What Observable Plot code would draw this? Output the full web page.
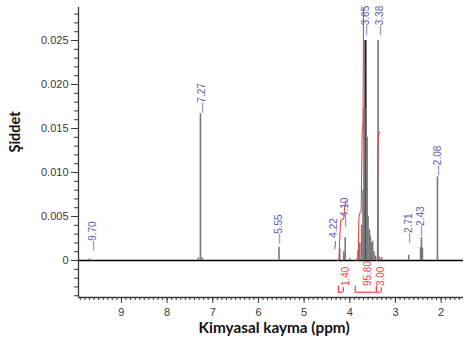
<!DOCTYPE html>
<html><head><meta charset="utf-8">
<script src="https://cdn.jsdelivr.net/npm/d3@7"></script>
<script src="https://cdn.jsdelivr.net/npm/@observablehq/plot@0.6"></script>
<style>body{margin:0;background:#fff}</style>
</head><body><div id="chart"></div>
<script>
// Spectrum peaks (ppm, intensity)
const peakPpm    = [9.70, 7.32, 7.27, 7.23, 5.55, 4.22, 4.13, 4.10, 4.00, 3.82, 3.78, 3.74, 3.71, 3.69, 3.67, 3.65, 3.64, 3.62, 3.60, 3.57, 3.55, 3.53, 3.50, 3.47, 3.44, 3.38, 3.35, 3.30, 2.71, 2.45, 2.43, 2.41, 2.08];
const peakHeight = [0.0002, 0.0003, 0.0167, 0.0003, 0.0015, 0.0013, 0.0010, 0.0026, 0.0002, 0.0011, 0.0020, 0.0040, 0.0080, 0.0173, 0.0250, 0.0250, 0.0173, 0.0140, 0.0050, 0.0035, 0.0028, 0.0020, 0.0022, 0.0010, 0.0005, 0.0250, 0.0004, 0.0003, 0.0006, 0.0015, 0.0026, 0.0014, 0.0095];
const darkPeaks  = [3.65];

// Peak labels
const labelText = ["—9.70", "—7.27", "—5.55", "4.22", "—4.10", "—3.65", "—3.38", "—2.71", "—2.43", "—2.08"];
const labelPpm  = [9.63, 7.25, 5.55, 4.36, 4.10, 3.64, 3.35, 2.71, 2.44, 2.08];
const labelBase = [0.0011, 0.0168, 0.0019, 0.0026, 0.0038, 0.0256, 0.0256, 0.0020, 0.0028, 0.0097];

// Integral curves
const intSeg  = ["a","a","a","a","a","a","a", "b","b","b","b","b","b","b","b", "c","c","c","c","c"];
const intPpm  = [4.27, 4.235, 4.225, 4.20, 4.13, 4.11, 4.08, 3.86, 3.815, 3.80, 3.78, 3.75, 3.73, 3.71, 3.68, 3.41, 3.395, 3.385, 3.37, 3.34];
const intVal  = [0, 0.0002, 0.0020, 0.0045, 0.0048, 0.0062, 0.0068, 0, 0.0005, 0.0048, 0.0054, 0.0056, 0.0144, 0.0160, 0.0500, 0, 0.0005, 0.0130, 0.0144, 0.0146];

// Integral values and ranges
const integralText = ["1.40", "95.80", "3.00"];
const integralFrom = [4.25, 3.88, 3.41];
const integralTo   = [4.14, 3.42, 3.31];
const integralAt   = [4.09, 3.61, 3.33];

const yTickValues = [0, 0.005, 0.010, 0.015, 0.020, 0.025];
const xTickValues = [2, 3, 4, 5, 6, 7, 8, 9];

const xDom = [9.94, 1.51], yDom = [-0.0042, 0.02875];
const peaks = peakPpm.map((p, i) => ({p, h: peakHeight[i], dark: darkPeaks.includes(p)}));
const labels = labelText.map((t, i) => ({t, p: labelPpm[i], y: labelBase[i]}));
const integ = intPpm.map((p, i) => ({p, v: intVal[i], s: intSeg[i]}));
const ints = integralText.map((t, i) => ({t, a: integralFrom[i], b: integralTo[i], m: integralAt[i]}));
const yMinor = d3.range(-0.004, 0.0285, 0.001).map(v => +v.toFixed(4));
const xMinor = d3.range(1.6, 9.95, 0.1).map(v => +v.toFixed(1));

const red = "#ee4444", blue = "#5b5bb0", axisC = "#3a3a3a";
const font = "Liberation Sans, Arial, sans-serif";
const titleFont = "Lato, 'Open Sans', sans-serif";

const chart = Plot.plot({
  width: 464, height: 345,
  marginLeft: 78, marginRight: 1, marginTop: 7, marginBottom: 48,
  style: {fontFamily: font, background: "#fff"},
  x: {domain: xDom},
  y: {domain: yDom},
  marks: [
    Plot.axisY({ticks: yTickValues, tickSize: 7, tickPadding: 3, fontSize: 11, color: axisC,
      tickFormat: d => d === 0 ? "0" : d.toFixed(3)}),
    Plot.axisY({ticks: yMinor, tickSize: 4, tickFormat: () => "", color: axisC}),
    Plot.axisX({ticks: xTickValues, tickSize: 6, tickPadding: 5, fontSize: 11, color: axisC, tickFormat: d3.format("d")}),
    Plot.axisX({ticks: xMinor, tickSize: 3, tickFormat: () => "", color: axisC}),
    Plot.ruleX([xDom[0]], {stroke: axisC, strokeWidth: 1.3}),
    Plot.ruleY([yDom[0]], {stroke: axisC, strokeWidth: 1.3}),
    // spectrum
    Plot.ruleY([0], {stroke: "#000", strokeWidth: 1.4}),
    Plot.ruleX(peaks, {x: "p", y1: 0, y2: "h", stroke: d => d.dark ? "#222" : "#777", strokeWidth: 1.6}),
    // integral curves
    Plot.line(integ, {x: "p", y: "v", z: "s", stroke: red, strokeWidth: 1.1, clip: true}),
    // integral brackets
    Plot.ruleY(ints, {x1: "a", x2: "b", y: -0.0036, stroke: red, strokeWidth: 1.2}),
    Plot.ruleX(ints, {x: "a", y1: -0.0036, y2: -0.0029, stroke: red, strokeWidth: 1.2}),
    Plot.ruleX(ints, {x: "b", y1: -0.0036, y2: -0.0031, stroke: red, strokeWidth: 1.2}),
    Plot.text(ints, {x: "m", y: -0.0029, text: "t", rotate: -90, textAnchor: "start", fill: red, fontSize: 10}),
    // peak labels
    Plot.link([{x1: 4.33, y1: 0.0013, x2: 4.31, y2: 0.0022}], {x1: "x1", y1: "y1", x2: "x2", y2: "y2", stroke: blue, strokeWidth: 1}),
    Plot.text(labels, {x: "p", y: "y", text: "t", rotate: -90, textAnchor: "start", fill: blue, fontSize: 10}),
    // axis titles
    Plot.text(["Şiddet"], {frameAnchor: "left", dx: -63, rotate: -90, fontSize: 14.5, fontWeight: "bold", fill: "#111", fontFamily: titleFont}),
    Plot.text(["Kimyasal kayma (ppm)"], {x: () => 7.31, frameAnchor: "bottom", textAnchor: "start", dy: 35, fontSize: 15.3, fontWeight: "bold", fill: "#111", fontFamily: titleFont})
  ]
});
document.getElementById("chart").appendChild(chart);
</script>
</body></html>
